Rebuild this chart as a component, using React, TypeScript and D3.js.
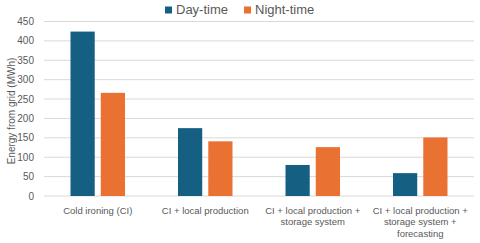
import React, { useEffect, useRef } from "react";
import * as d3 from "d3";

const categories = [
  ["Cold ironing (CI)"],
  ["CI + local production"],
  ["CI + local production +", "storage system"],
  ["CI + local production +", "storage system +", "forecasting"],
];
const seriesNames = ["Day-time", "Night-time"];
const dayTime = [424, 175, 80, 59];
const nightTime = [266, 141, 126, 151];
const yTicks = [0, 50, 100, 150, 200, 250, 300, 350, 400, 450];
const colors = ["#156082", "#E97132"];

export default function App() {
  const ref = useRef<SVGSVGElement>(null);

  useEffect(() => {
    const width = 480;
    const height = 243;
    const margin = { top: 21.5, right: 6, bottom: 47, left: 44 };
    const svg = d3.select(ref.current);
    svg.selectAll("*").remove();

    const keys = categories.map((c) => c.join(" "));
    const x0 = d3
      .scaleBand()
      .domain(keys)
      .range([margin.left, width - margin.right]);
    const bw = x0.bandwidth();
    const x1 = d3
      .scaleBand()
      .domain(seriesNames)
      .range([bw * 0.2465, bw * 0.7535])
      .paddingInner(0.2);
    const y = d3
      .scaleLinear()
      .domain([0, 450])
      .range([height - margin.bottom, margin.top]);

    // grid
    svg
      .append("g")
      .selectAll("line")
      .data(yTicks)
      .enter()
      .append("line")
      .attr("x1", margin.left)
      .attr("x2", width - margin.right)
      .attr("y1", (d) => y(d))
      .attr("y2", (d) => y(d))
      .attr("stroke", "#d9d9d9")
      .attr("stroke-width", 1);

    // y tick labels
    svg
      .append("g")
      .selectAll("text")
      .data(yTicks)
      .enter()
      .append("text")
      .attr("x", 34)
      .attr("y", (d) => y(d))
      .attr("dy", "0.35em")
      .attr("text-anchor", "end")
      .style("font-family", "Liberation Sans, Arial, sans-serif")
      .style("font-size", "10px")
      .attr("fill", "#595959")
      .text((d) => d);

    // bars
    const values = [dayTime, nightTime];
    seriesNames.forEach((s, si) => {
      svg
        .append("g")
        .selectAll("rect")
        .data(values[si])
        .enter()
        .append("rect")
        .attr("x", (d, i) => x0(keys[i])! + x1(s)!)
        .attr("width", x1.bandwidth())
        .attr("y", (d) => y(d))
        .attr("height", (d) => y(0) - y(d))
        .attr("fill", colors[si]);
    });

    // x labels
    const xl = svg.append("g");
    categories.forEach((lines, i) => {
      const t = xl
        .append("text")
        .attr("x", x0(keys[i])! + bw / 2)
        .attr("y", 213.5)
        .attr("text-anchor", "middle")
        .style("font-family", "Liberation Sans, Arial, sans-serif")
        .style("font-size", "9.5px")
        .attr("fill", "#595959");
      lines.forEach((l, li) => {
        t.append("tspan")
          .attr("x", x0(keys[i])! + bw / 2)
          .attr("dy", li === 0 ? 0 : 11.7)
          .text(l);
      });
    });

    // axis title
    svg
      .append("text")
      .attr("transform", `translate(15,111) rotate(-90)`)
      .attr("text-anchor", "middle")
      .style("font-family", "Liberation Sans, Arial, sans-serif")
      .style("font-size", "10px")
      .attr("fill", "#595959")
      .text("Energy from grid (MWh)");

    // legend
    const legendX = [165, 244];
    seriesNames.forEach((s, i) => {
      svg
        .append("rect")
        .attr("x", legendX[i])
        .attr("y", 6.5)
        .attr("width", 7)
        .attr("height", 7)
        .attr("fill", colors[i]);
      svg
        .append("text")
        .attr("x", legendX[i] + 11)
        .attr("y", 13.5)
        .style("font-family", "Liberation Sans, Arial, sans-serif")
        .style("font-size", "13px")
        .attr("fill", "#595959")
        .text(s);
    });
  }, []);

  return (
    <svg
      ref={ref}
      width={480}
      height={243}
      style={{ position: "absolute", left: 0, top: 0, background: "#fff" }}
    />
  );
}
